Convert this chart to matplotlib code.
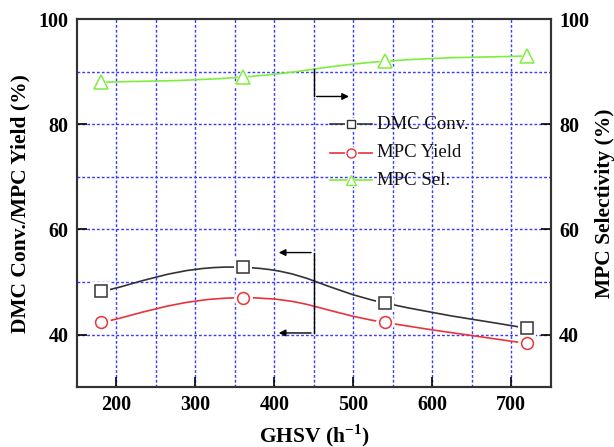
import numpy as np
import matplotlib
matplotlib.use("Agg")
import matplotlib.pyplot as plt
from matplotlib.path import Path
from matplotlib.patches import PathPatch

ghsv = [180, 360, 540, 720]
dmc_conv = [48.2, 52.8, 46.0, 41.2]
mpc_yield = [42.3, 47.0, 42.3, 38.3]
mpc_sel = [88.0, 89.0, 92.0, 93.0]
x_ticks = [200, 300, 400, 500, 600, 700]
y_ticks = [40, 60, 80, 100]

plt.rcParams['font.family'] = ['Liberation Serif', 'DejaVu Serif']
plt.rcParams['mathtext.fontset'] = 'custom'
plt.rcParams['mathtext.rm'] = 'Liberation Serif:bold'
plt.rcParams['mathtext.bf'] = 'Liberation Serif:bold'

fig = plt.figure(figsize=(6.14, 4.47), dpi=100)
ax = fig.add_axes([0.1254, 0.134, 0.7716, 0.823])
ax.set_xlim(150, 750)
ax.set_ylim(30, 100)

# grid
for gx in np.arange(200, 750, 50):
    ax.axvline(gx, color='#3a3aff', lw=1.0, ls=(0, (2, 1.5)), zorder=0)
for gy in np.arange(40, 100, 10):
    ax.axhline(gy, color='#3a3aff', lw=1.0, ls=(0, (2, 1.5)), zorder=0)


def smooth_path(xs, ys, tension=0.5):
    # Catmull-Rom style cubic Bezier through the data points
    xs = np.asarray(xs, float); ys = np.asarray(ys, float)
    n = len(xs)
    verts = [(xs[0], ys[0])]
    codes = [Path.MOVETO]
    for i in range(n - 1):
        x0, y0 = (xs[i - 1], ys[i - 1]) if i > 0 else (xs[i], ys[i])
        x3, y3 = (xs[i + 2], ys[i + 2]) if i + 2 < n else (xs[i + 1], ys[i + 1])
        x1, y1 = xs[i], ys[i]
        x2, y2 = xs[i + 1], ys[i + 1]
        c1 = (x1 + (x2 - x0) * tension / 3, y1 + (y2 - y0) * tension / 3)
        c2 = (x2 - (x3 - x1) * tension / 3, y2 - (y3 - y1) * tension / 3)
        verts += [c1, c2, (x2, y2)]
        codes += [Path.CURVE4] * 3
    return Path(verts, codes)


series = [
    (dmc_conv, '#333333', 's', 'DMC Conv.', 8),
    (mpc_yield, '#e8343a', 'o', 'MPC Yield', 8.5),
    (mpc_sel, '#7fee3a', '^', 'MPC Sel.', 10),
]
for ys, col, mk, lab, ms in series:
    ax.add_patch(PathPatch(smooth_path(ghsv, ys, 0.7), fill=False,
                           edgecolor=col, lw=1.2, zorder=2))
    ax.plot(ghsv, ys, ls='none', marker=mk, ms=ms + 5, mfc='white', mec='white',
            mew=0, zorder=3)
    ax.plot(ghsv, ys, ls='none', marker=mk, ms=ms, mfc='white', mec=col,
            mew=1.1, zorder=4)

# legend-like handles
leg_items = [(80.0, '#333333', 's', 'DMC Conv.', 6),
             (74.6, '#e8343a', 'o', 'MPC Yield', 6.5),
             (69.4, '#7fee3a', '^', 'MPC Sel.', 7)]
for yy, col, mk, lab, ms in leg_items:
    ax.plot([470, 523], [yy, yy], color=col, lw=1.2, zorder=3)
    ax.plot([497], [yy], ls='none', marker=mk, ms=ms + 3, mfc='white', mec='white',
            mew=0, zorder=4)
    ax.plot([497], [yy], ls='none', marker=mk, ms=ms, mfc='white', mec=col,
            mew=1.0, zorder=5)
    ax.text(530, yy, lab, fontsize=13.5, va='center', ha='left', color='#111111',
            zorder=6)

# indicator arrows
akw = dict(arrowstyle='-|>', color='black', lw=1.0, mutation_scale=10)
ax.plot([450, 450], [90.6, 85.3], color='black', lw=1.0, zorder=3)
ax.annotate('', xy=(498, 85.3), xytext=(450, 85.3), arrowprops=akw, zorder=3)
ax.plot([450, 450], [55.6, 40.3], color='black', lw=1.0, zorder=3)
ax.annotate('', xy=(402, 55.6), xytext=(450, 55.6), arrowprops=akw, zorder=3)
ax.annotate('', xy=(402, 40.3), xytext=(450, 40.3), arrowprops=akw, zorder=3)

ax.set_xticks(x_ticks)
ax.set_yticks(y_ticks)
ax.tick_params(direction='in', length=7, width=1.2, labelsize=14.5, pad=6)
for lab in ax.get_xticklabels() + ax.get_yticklabels():
    lab.set_fontweight('bold')
for s in ax.spines.values():
    s.set_linewidth(1.5)
    s.set_color('#333333')

ax2 = ax.twinx()
ax2.set_ylim(30, 100)
ax2.set_yticks(y_ticks)
ax2.tick_params(direction='in', length=7, width=1.2, labelsize=14.5, pad=6)
for lab in ax2.get_yticklabels():
    lab.set_fontweight('bold')
for s in ax2.spines.values():
    s.set_linewidth(1.5)
    s.set_color('#333333')

ax.set_xlabel('GHSV (h$^{-1}$)', fontsize=15.5, fontweight='bold', labelpad=5)
ax.set_ylabel('DMC Conv./MPC Yield (%)', fontsize=15.5, fontweight='bold', labelpad=6)
ax2.set_ylabel('MPC Selectivity (%)', fontsize=15.5, fontweight='bold', labelpad=4)

fig.savefig('out.png', dpi=100)
